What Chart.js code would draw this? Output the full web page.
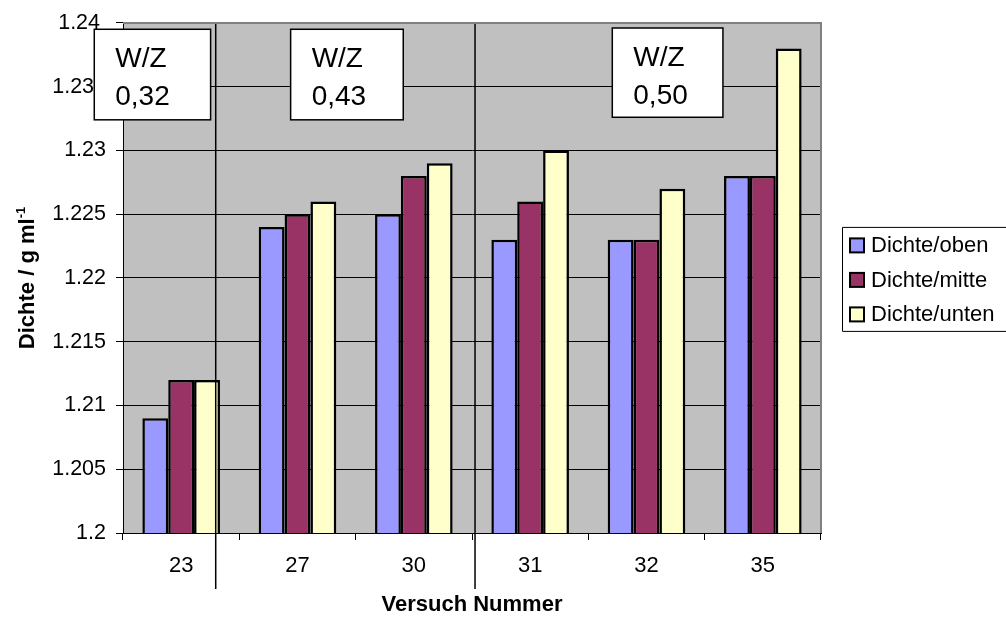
<!DOCTYPE html>
<html>
<head>
<meta charset="utf-8">
<script src="https://cdn.jsdelivr.net/npm/chart.js@4"></script>
<style>
  html, body { margin: 0; padding: 0; background: #fff; }
  #wrap { width: 1006px; height: 619px; }
</style>
</head>
<body>
<div id="wrap"><canvas id="c"></canvas></div>
<script>
const versuche = ['23', '27', '30', '31', '32', '35'];
const dichteOben  = [1.209, 1.224, 1.225, 1.223, 1.223, 1.228];
const dichteMitte = [1.212, 1.225, 1.228, 1.226, 1.223, 1.228];
const dichteUnten = [1.212, 1.226, 1.229, 1.230, 1.227, 1.238];
// the two top labels keep trailing blanks so they sit further left
const yTickLabels = ['1.2', '1.205', '1.21', '1.215', '1.22', '1.225', '1.23', '1.23  ', '1.24 '];
const wzWerte = ['0,32', '0,43', '0,50'];

const FONT = "'Liberation Sans', Arial, sans-serif";
Chart.defaults.font.family = FONT;
Chart.defaults.color = '#000';

// grey plot area + grey frame on top/right
const plotFrame = {
  id: 'plotFrame',
  beforeDraw(chart) {
    const { ctx, chartArea: a } = chart;
    ctx.save();
    ctx.fillStyle = '#c0c0c0';
    ctx.fillRect(a.left, a.top, a.right - a.left, a.bottom - a.top);
    ctx.restore();
  },
  afterDraw(chart) {
    const { ctx, chartArea: a } = chart;
    ctx.save();
    ctx.strokeStyle = '#808080';
    ctx.lineWidth = 2;
    ctx.beginPath();
    ctx.moveTo(a.left, a.top);
    ctx.lineTo(a.right, a.top);
    ctx.lineTo(a.right, a.bottom);
    ctx.stroke();
    ctx.restore();
  }
};

// W/Z boxes and the group separators, placed in category / value units
const wzNotes = {
  id: 'wzNotes',
  afterDatasetsDraw(chart, args, opts) {
    const { ctx, chartArea: a, scales: { x, y } } = chart;
    const c0 = x.getPixelForValue(0);
    const cw = x.getPixelForValue(1) - c0;
    ctx.save();
    ctx.strokeStyle = '#000';
    ctx.lineWidth = 1.5;
    opts.separators.forEach(s => {
      const px = c0 + s * cw;
      ctx.beginPath();
      ctx.moveTo(px, a.top);
      ctx.lineTo(px, a.bottom + 56);
      ctx.stroke();
    });
    opts.boxes.forEach((b, i) => {
      const l = c0 + b.x0 * cw, r = c0 + b.x1 * cw;
      const t = y.getPixelForValue(b.y0), btm = y.getPixelForValue(b.y1);
      ctx.fillStyle = '#fff';
      ctx.fillRect(l, t, r - l, btm - t);
      ctx.strokeRect(l, t, r - l, btm - t);
      ctx.fillStyle = '#000';
      ctx.font = '28px ' + FONT;
      ctx.textBaseline = 'middle';
      ctx.textAlign = 'left';
      ctx.fillText('W/Z', l + 21, t + 30);
      ctx.fillText(wzWerte[i], l + 21, t + 68);
    });
    ctx.restore();
  }
};

// y title with superscript exponent
const yTitle = {
  id: 'yTitle',
  afterDraw(chart) {
    const { ctx, chartArea: a } = chart;
    const main = 'Dichte / g ml', sup = '-1';
    ctx.save();
    ctx.fillStyle = '#000';
    ctx.textBaseline = 'alphabetic';
    ctx.textAlign = 'left';
    ctx.font = 'bold 22px ' + FONT;
    const wMain = ctx.measureText(main).width;
    ctx.font = 'bold 13px ' + FONT;
    const wSup = ctx.measureText(sup).width;
    const cy = (a.top + a.bottom) / 2;
    ctx.translate(34, cy + (wMain + wSup) / 2);
    ctx.rotate(-Math.PI / 2);
    ctx.font = 'bold 22px ' + FONT;
    ctx.fillText(main, 0, 0);
    ctx.font = 'bold 13px ' + FONT;
    ctx.fillText(sup, wMain, -9);
    ctx.restore();
  }
};

// boxed legend at the right, open towards the page edge
const sideLegend = {
  id: 'sideLegend',
  afterDraw(chart) {
    const { ctx, chartArea: a } = chart;
    const left = a.right + 21, top = a.top + 204, h = 104;
    ctx.save();
    ctx.strokeStyle = '#000';
    ctx.lineWidth = 1;
    ctx.beginPath();
    ctx.moveTo(chart.width + 2, top + 0.5);
    ctx.lineTo(left + 0.5, top + 0.5);
    ctx.lineTo(left + 0.5, top + h + 0.5);
    ctx.lineTo(chart.width + 2, top + h + 0.5);
    ctx.stroke();
    ctx.font = '22px ' + FONT;
    ctx.textBaseline = 'middle';
    ctx.textAlign = 'left';
    chart.data.datasets.forEach((ds, i) => {
      const cy = top + 18.5 + i * 34.5;
      ctx.fillStyle = ds.backgroundColor;
      ctx.fillRect(left + 8, cy - 7, 14, 14);
      ctx.lineWidth = 2;
      ctx.strokeRect(left + 8, cy - 7, 14, 14);
      ctx.fillStyle = '#000';
      ctx.fillText(ds.label, left + 29, cy + 1);
    });
    ctx.restore();
  }
};

new Chart(document.getElementById('c'), {
  type: 'bar',
  data: {
    labels: versuche,
    datasets: [
      { label: 'Dichte/oben', data: dichteOben, backgroundColor: '#9999ff' },
      { label: 'Dichte/mitte', data: dichteMitte, backgroundColor: '#993366' },
      { label: 'Dichte/unten', data: dichteUnten, backgroundColor: '#ffffcc' }
    ]
  },
  options: {
    responsive: true,
    maintainAspectRatio: false,
    animation: false,
    layout: { padding: { top: 20, right: 185, left: 0, bottom: 0 } },
    datasets: {
      bar: {
        categoryPercentage: 0.667,
        barPercentage: 1,
        borderColor: '#000',
        borderWidth: 2.5,
        borderSkipped: false
      }
    },
    plugins: {
      legend: { display: false },
      tooltip: { enabled: false },
      wzNotes: {
        separators: [0.297, 2.526],
        boxes: [
          { x0: -0.747, x1: 0.253, y0: 1.2395, y1: 1.2324 },
          { x0: 0.941, x1: 1.909, y0: 1.2395, y1: 1.2324 },
          { x0: 3.706, x1: 4.657, y0: 1.2396, y1: 1.2326 }
        ]
      }
    },
    scales: {
      x: {
        grid: { offset: true, drawOnChartArea: false, tickLength: 7, color: '#000' },
        border: { color: '#000' },
        ticks: { font: { size: 22 }, color: '#000', padding: 13, maxRotation: 0 },
        title: {
          display: true,
          text: 'Versuch Nummer',
          color: '#000',
          font: { size: 22, weight: 'bold', lineHeight: 1 },
          padding: { top: 0, bottom: 3 }
        },
        afterFit(s) { s.height = 86; }
      },
      y: {
        min: 1.2,
        max: 1.24,
        ticks: {
          stepSize: 0.005,
          callback: (v, i) => yTickLabels[i],
          font: { size: 21.5 },
          color: '#000',
          padding: 10
        },
        grid: { color: '#000', tickLength: 7 },
        border: { color: '#000' },
        afterFit(s) { s.width = 123; }
      }
    }
  },
  plugins: [plotFrame, wzNotes, yTitle, sideLegend]
});
</script>
</body>
</html>
